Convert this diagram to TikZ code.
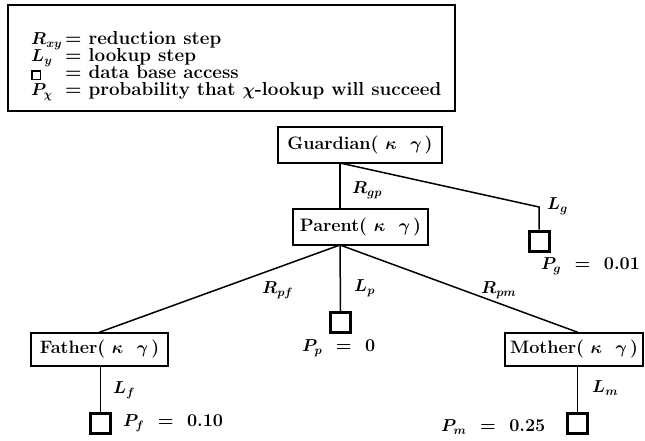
\documentclass[tikz,border=0pt]{standalone}
\begin{document}
\begin{tikzpicture}[x=1pt,y=-1pt,
  box/.style={draw, line width=1.6pt, minimum height=34pt, inner sep=0pt, font=\fontsize{18}{20}\selectfont\bfseries\boldmath},
  db/.style={draw, line width=3pt, minimum size=20pt, inner sep=0pt},
  conn/.style={line width=1.5pt},
  lbl/.style={font=\fontsize{18}{20}\selectfont\bfseries\boldmath, inner sep=0pt, anchor=west},
  legtxt/.style={font={\fontsize{18.8}{17}\selectfont\bfseries\boldmath\lineskiplimit=-40pt}, inner sep=0pt, anchor=west, align=left},
]
\useasboundingbox (0,0) rectangle (645,441);
% legend
\node[draw, line width=1.6pt, minimum width=447pt, minimum height=106pt, inner sep=0pt] (legend) at (231.5,58) {};
\node[legtxt] (legtext) at (31,66) {%
\makebox[34pt][l]{$R_{xy}$}=\ reduction step\\
\makebox[34pt][l]{$L_{y}$}=\ lookup step\\
\makebox[34pt][l]{\fboxrule=1.3pt\fboxsep=0pt\fbox{\phantom{\rule{7pt}{7pt}}}}=\ data base access\\
\makebox[34pt][l]{$P_{\chi}$}=\ probability that $\chi$-lookup will succeed};
% boxes
\node[box, minimum width=164pt, minimum height=36pt] (G) at (360,145) {Guardian( $\kappa$\ \ $\gamma$\,)};
\node[box, minimum width=135pt, minimum height=36pt] (P) at (360.5,227) {Parent( $\kappa$\ \ $\gamma$\,)};
\node[box, minimum width=137pt, minimum height=33pt] (F) at (99.5,349.5) {Father( $\kappa$\ \ $\gamma$\,)};
\node[box, minimum width=138pt, minimum height=33pt] (M) at (574,349.5) {Mother( $\kappa$\ \ $\gamma$\,)};
% data base squares
\node[db] (SG) at (539,241) {};
\node[db] (SP) at (340.5,322.5) {};
\node[db] (SF) at (100.5,423.5) {};
\node[db] (SM) at (577.5,423.5) {};
% junctions
\coordinate (gj) at (340,163);
\coordinate (gk) at (539,207);
\coordinate (pj) at (340,245);
% connectors
\draw[conn] (gj) -- (gj |- P.north);
\draw[conn] (gj) -- (gk) -- (SG.north);
\draw[conn] (pj) -- (F.north);
\draw[conn] (pj) -- (SP.north);
\draw[conn] (pj) -- (M.north -| SM.north);
\draw[conn] (F.south -| SF.north) -- (SF.north);
\draw[conn] (M.south -| SM.north) -- (SM.north);
% labels
\node[lbl] (rgp) at (352,190) {$R_{gp}$};
\node[lbl] (lg) at (547,206) {$L_{g}$};
\node[lbl] (pg) at (541,266) {$P_{g}$\ \ =\ \ 0.01};
\node[lbl] (rpf) at (262,290) {$R_{pf}$};
\node[lbl] (lp) at (354,288) {$L_{p}$};
\node[lbl] (rpm) at (481,290) {$R_{pm}$};
\node[lbl] (pp) at (302,348) {$P_{p}$\ \ =\ \ 0};
\node[lbl] (lf) at (113,390) {$L_{f}$};
\node[lbl] (pf) at (123,423) {$P_{f}$\ \ =\ \ 0.10};
\node[lbl] (lm) at (592,388) {$L_{m}$};
\node[lbl] (pm) at (441,427) {$P_{m}$\ \ =\ \ 0.25};
\end{tikzpicture}
\end{document}
